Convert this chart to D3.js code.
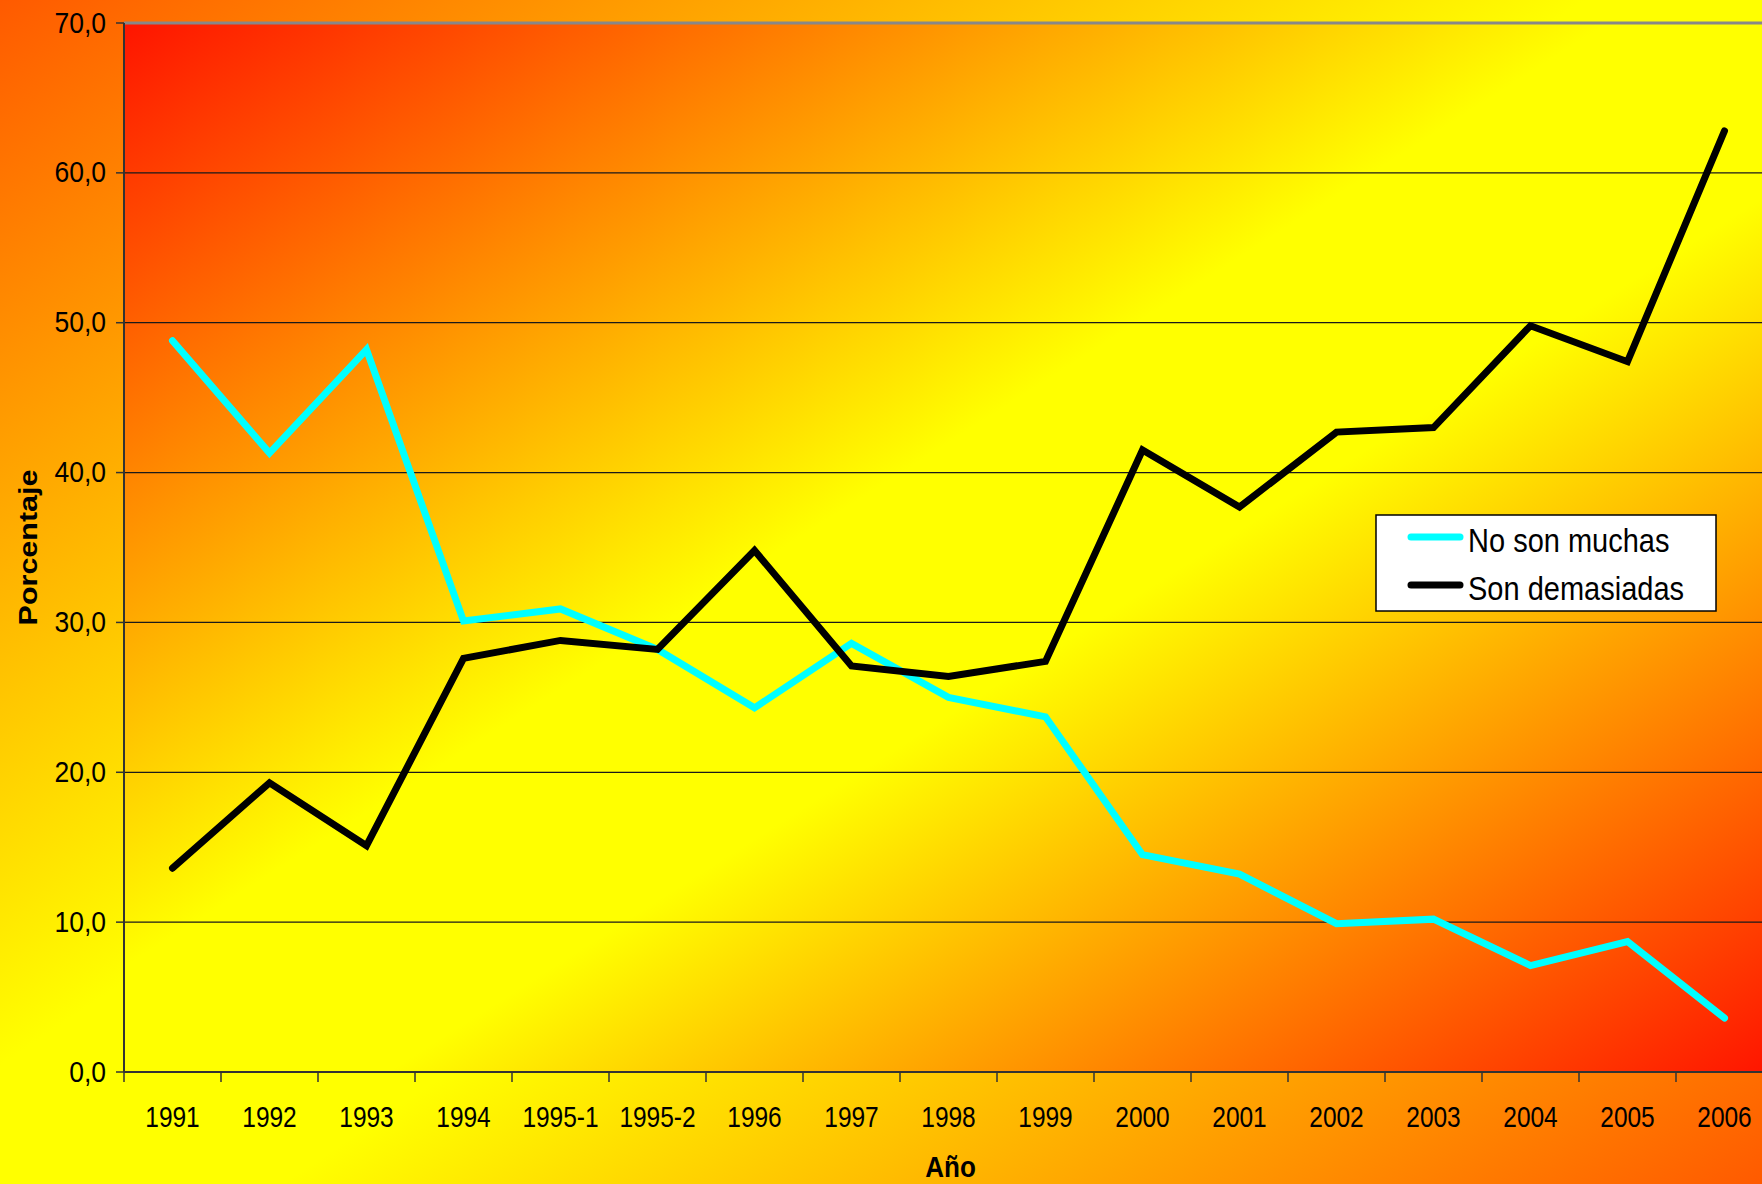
<!DOCTYPE html>
<html>
<head>
<meta charset="utf-8">
<script src="https://cdn.jsdelivr.net/npm/d3@7"></script>
<style>
  html, body { margin: 0; padding: 0; overflow: hidden; }
  svg { display: block; font-family: "Liberation Sans", Arial, sans-serif; }
</style>
</head>
<body>
<div id="chart"></div>
<script>
// chart data
const years = ["1991", "1992", "1993", "1994", "1995-1", "1995-2", "1996", "1997", "1998",
  "1999", "2000", "2001", "2002", "2003", "2004", "2005", "2006"];
const noSonMuchas = [48.8, 41.3, 48.2, 30.1, 30.9, 28.2, 24.3, 28.6, 25.0,
  23.7, 14.5, 13.2, 9.9, 10.2, 7.1, 8.7, 3.6];
const sonDemasiadas = [13.6, 19.3, 15.1, 27.6, 28.8, 28.2, 34.8, 27.1, 26.4,
  27.4, 41.5, 37.7, 42.7, 43.0, 49.8, 47.4, 62.8];
const yTicks = [0, 10, 20, 30, 40, 50, 60, 70];
const seriesNames = ["No son muchas", "Son demasiadas"];
const seriesColors = ["#00ffff", "#000000"];

const W = 1762, H = 1184;
const plot = { left: 124, top: 23, right: 1773, bottom: 1072 };

const svg = d3.select("#chart").append("svg")
  .attr("width", W)
  .attr("height", H);

const defs = svg.append("defs");

function diagGradient(id, edge) {
  const g = defs.append("linearGradient")
    .attr("id", id)
    .attr("x1", 0).attr("y1", 0).attr("x2", 1).attr("y2", 1);
  g.append("stop").attr("offset", "0%").attr("stop-color", edge);
  g.append("stop").attr("offset", "45%").attr("stop-color", "#ffff00");
  g.append("stop").attr("offset", "58%").attr("stop-color", "#ffff00");
  g.append("stop").attr("offset", "100%").attr("stop-color", edge);
}
diagGradient("bgGrad", "#ff5a00");
diagGradient("plotGrad", "#ff1400");

// backgrounds
svg.append("rect")
  .attr("width", W).attr("height", H)
  .attr("fill", "url(#bgGrad)");

svg.append("rect")
  .attr("x", plot.left).attr("y", plot.top)
  .attr("width", plot.right - plot.left)
  .attr("height", plot.bottom - plot.top)
  .attr("fill", "url(#plotGrad)");

const x = d3.scaleBand()
  .domain(years)
  .range([plot.left, plot.right]);

const y = d3.scaleLinear()
  .domain([0, 70])
  .range([plot.bottom, plot.top]);

// gridlines
svg.append("g")
  .selectAll("line")
  .data(yTicks.filter(d => d > 0))
  .join("line")
  .attr("x1", plot.left).attr("x2", plot.right)
  .attr("y1", d => y(d)).attr("y2", d => y(d))
  .attr("stroke", d => d === 70 ? "#888888" : "#1a1a1a")
  .attr("stroke-width", d => d === 70 ? 3 : 1.3);

// y axis
svg.append("line")
  .attr("x1", plot.left).attr("x2", plot.left)
  .attr("y1", plot.top).attr("y2", plot.bottom)
  .attr("stroke", "#333").attr("stroke-width", 2);

svg.append("g")
  .selectAll("line")
  .data(yTicks)
  .join("line")
  .attr("x1", plot.left - 8).attr("x2", plot.left)
  .attr("y1", d => y(d)).attr("y2", d => y(d))
  .attr("stroke", "#333").attr("stroke-width", 1.5);

const fmt = d => d3.format(".1f")(d).replace(".", ",");

svg.append("g")
  .selectAll("text")
  .data(yTicks)
  .join("text")
  .attr("transform", d => `translate(106,${y(d) + 9.5}) scale(1,1.1)`)
  .attr("text-anchor", "end")
  .attr("font-size", 26.5)
  .attr("fill", "#000")
  .text(fmt);

// x axis
svg.append("line")
  .attr("x1", plot.left).attr("x2", plot.right)
  .attr("y1", plot.bottom).attr("y2", plot.bottom)
  .attr("stroke", "#333").attr("stroke-width", 2.2);

svg.append("g")
  .selectAll("line")
  .data(years)
  .join("line")
  .attr("x1", d => x(d)).attr("x2", d => x(d))
  .attr("y1", plot.bottom).attr("y2", plot.bottom + 10)
  .attr("stroke", "#333").attr("stroke-width", 1.5);

svg.append("g")
  .selectAll("text")
  .data(years)
  .join("text")
  .attr("transform", d => `translate(${x(d) + x.bandwidth() / 2},1127) scale(1,1.22)`)
  .attr("text-anchor", "middle")
  .attr("font-size", 24.5)
  .attr("fill", "#000")
  .text(d => d);

// axis titles
svg.append("text")
  .attr("transform", `translate(37,${(plot.top + plot.bottom) / 2}) rotate(-90) scale(1.15,1)`)
  .attr("text-anchor", "middle")
  .attr("font-size", 26.5)
  .attr("font-weight", "bold")
  .text("Porcentaje");

svg.append("text")
  .attr("transform", `translate(${(plot.left + plot.right) / 2 + 2},1177) scale(1,1.15)`)
  .attr("text-anchor", "middle")
  .attr("font-size", 26)
  .attr("font-weight", "bold")
  .text("Año");

// lines
const line = d3.line()
  .x((d, i) => x(years[i]) + x.bandwidth() / 2)
  .y(d => y(d));

[noSonMuchas, sonDemasiadas].forEach((vals, i) => {
  svg.append("path")
    .datum(vals)
    .attr("fill", "none")
    .attr("stroke", seriesColors[i])
    .attr("stroke-width", 7)
    .attr("stroke-linejoin", "miter")
    .attr("stroke-linecap", "round")
    .attr("d", line);
});

// legend
const legend = svg.append("g");
legend.append("rect")
  .attr("x", 1376).attr("y", 515)
  .attr("width", 340).attr("height", 96)
  .attr("fill", "#fff")
  .attr("stroke", "#000").attr("stroke-width", 1.5);

const rows = legend.selectAll("g.row")
  .data(seriesNames)
  .join("g")
  .attr("class", "row")
  .attr("transform", (d, i) => `translate(0,${537 + i * 48})`);

rows.append("line")
  .attr("x1", 1411).attr("x2", 1460)
  .attr("stroke", (d, i) => seriesColors[i])
  .attr("stroke-width", 7)
  .attr("stroke-linecap", "round");

rows.append("text")
  .attr("transform", "translate(1468,14.5) scale(1,1.15)")
  .attr("font-size", 29)
  .attr("fill", "#000")
  .text(d => d);
</script>
</body>
</html>
